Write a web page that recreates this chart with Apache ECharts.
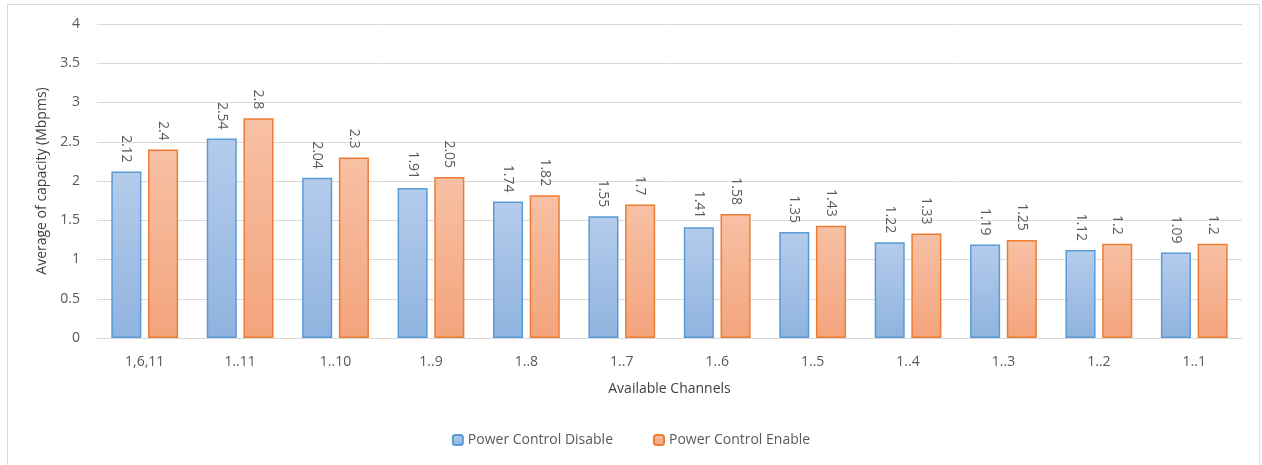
<!DOCTYPE html>
<html>
<head>
<meta charset="utf-8">
<script src="https://cdn.jsdelivr.net/npm/echarts@6/dist/echarts.min.js"></script>
<style>
  html, body { margin: 0; padding: 0; background: #fff; }
  #chart { width: 1262px; height: 465px; }
</style>
</head>
<body>
<div id="chart"></div>
<script>
// Channel sets on the x axis
const channels = ['1,6,11', '1..11', '1..10', '1..9', '1..8', '1..7', '1..6', '1..5', '1..4', '1..3', '1..2', '1..1'];
// Average capacity (Mbpms) per channel set
const powerControlDisable = [2.12, 2.54, 2.04, 1.91, 1.74, 1.55, 1.41, 1.35, 1.22, 1.19, 1.12, 1.09];
const powerControlEnable = [2.4, 2.8, 2.3, 2.05, 1.82, 1.7, 1.58, 1.43, 1.33, 1.25, 1.2, 1.2];
const seriesNames = ['Power Control Disable', 'Power Control Enable'];

const FONT = 'Open Sans';
const labelGray = '#595959';

function vGrad(top, bottom) {
  return new echarts.graphic.LinearGradient(0, 0, 0, 1, [
    { offset: 0, color: top },
    { offset: 1, color: bottom }
  ]);
}

const barLabel = {
  show: true,
  position: 'top',
  rotate: -90,
  align: 'right',
  verticalAlign: 'middle',
  distance: 9,
  color: labelGray,
  fontFamily: FONT,
  fontSize: 14,
  formatter: p => String(p.value)
};

const chart = echarts.init(document.getElementById('chart'), null, { renderer: 'canvas' });
chart.setOption({
  animation: false,
  backgroundColor: '#ffffff',
  graphic: [{
    type: 'rect',
    shape: { x: 7.5, y: 4.5, width: 1252, height: 470 },
    style: { fill: 'none', stroke: '#d9d9d9', lineWidth: 1 },
    silent: true
  }],
  grid: { left: 97, right: 20, top: 24, bottom: 127 },
  legend: {
    data: seriesNames,
    bottom: 13,
    left: 'center',
    itemWidth: 10,
    itemHeight: 10,
    itemGap: 40,
    textStyle: { color: labelGray, fontFamily: FONT, fontSize: 14 }
  },
  xAxis: {
    type: 'category',
    data: channels,
    name: 'Available Channels',
    nameLocation: 'middle',
    nameGap: 44,
    nameTextStyle: { color: '#404040', fontFamily: FONT, fontSize: 14 },
    axisLine: { lineStyle: { color: '#d9d9d9' } },
    axisTick: { show: false },
    axisLabel: { color: labelGray, fontFamily: FONT, fontSize: 14, margin: 17 }
  },
  yAxis: {
    type: 'value',
    min: 0,
    max: 4,
    interval: 0.5,
    name: 'Average of capacity (Mbpms)',
    nameLocation: 'middle',
    nameGap: 47,
    nameTextStyle: { color: '#404040', fontFamily: FONT, fontSize: 14 },
    axisLine: { show: false },
    axisTick: { show: false },
    splitLine: { lineStyle: { color: '#d9d9d9' } },
    axisLabel: { color: labelGray, fontFamily: FONT, fontSize: 14, margin: 17 }
  },
  series: [
    {
      name: seriesNames[0],
      type: 'bar',
      data: powerControlDisable,
      barGap: '22%',
      barCategoryGap: '30%',
      itemStyle: { color: vGrad('#b5cceb', '#8fb3df'), borderColor: '#5b9bd5', borderWidth: 1.5 },
      label: barLabel
    },
    {
      name: seriesNames[1],
      type: 'bar',
      data: powerControlEnable,
      itemStyle: { color: vGrad('#f7c0a5', '#f3a47c'), borderColor: '#ed7d31', borderWidth: 1.5 },
      label: barLabel
    }
  ]
});
</script>
</body>
</html>
